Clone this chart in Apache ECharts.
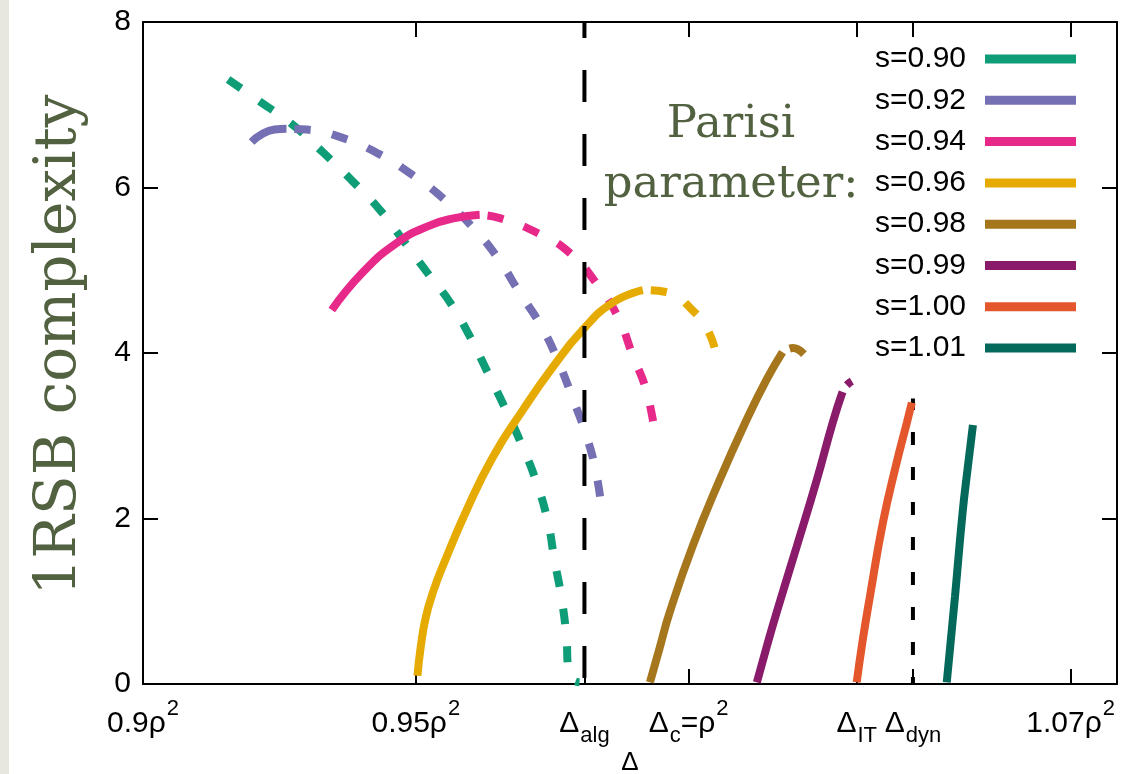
<!DOCTYPE html>
<html>
<head>
<meta charset="utf-8">
<script src="https://cdn.jsdelivr.net/npm/echarts@6/dist/echarts.min.js"></script>
<style>
  html, body { margin: 0; padding: 0; background: #ffffff; }
  #chart { width: 1138px; height: 774px; }
</style>
</head>
<body>
<div id="chart"></div>
<script>
// Parisi parameter of each curve
const sNames = ['s=0.90', 's=0.92', 's=0.94', 's=0.96', 's=0.98', 's=0.99', 's=1.00', 's=1.01'];
const sColors = ['#0f9d77', '#7570b3', '#e7298a', '#e6ab02', '#a6761d', '#8a1a6a', '#e4572d', '#04695b'];

// 1RSB complexity versus Δ (in units of ρ²): stable branch drawn solid, unstable branch dashed
const s090Solid = [];
const s090Dashed = [[0.9144, 7.36], [0.9214, 7.04], [0.9274, 6.76], [0.9329, 6.43], [0.9382, 6.09], [0.9434, 5.73],
  [0.9476, 5.37], [0.9520, 4.98], [0.9566, 4.58], [0.9599, 4.20], [0.9632, 3.76], [0.9663, 3.34], [0.9694, 2.89],
  [0.9721, 2.44], [0.9742, 1.96], [0.9754, 1.50], [0.9767, 1.04], [0.9776, 0.56], [0.9779, 0.20], [0.9786, 0.06], [0.9800, 0.02]];

const s092Solid = [[0.9199, 6.55], [0.9217, 6.64], [0.9241, 6.70], [0.9263, 6.71]];
const s092Dashed = [[0.9263, 6.71], [0.9300, 6.70], [0.9366, 6.60], [0.9434, 6.40], [0.9494, 6.15], [0.9553, 5.85],
  [0.9608, 5.49], [0.9650, 5.15], [0.9690, 4.73], [0.9731, 4.31], [0.9764, 3.85], [0.9787, 3.46], [0.9813, 2.99],
  [0.9831, 2.53], [0.9841, 2.08]];

const s094Solid = [[0.9346, 4.52], [0.9402, 4.97], [0.9465, 5.33], [0.9525, 5.54], [0.9571, 5.63], [0.9617, 5.67]];
const s094Dashed = [[0.9617, 5.67], [0.9654, 5.63], [0.9723, 5.45], [0.9782, 5.21], [0.9831, 4.84], [0.9870, 4.44],
  [0.9897, 3.98], [0.9923, 3.53], [0.9940, 2.95]];

const s096Solid = [[0.9503, 0.10], [0.9509, 0.45], [0.9518, 0.80], [0.9532, 1.12], [0.9551, 1.45], [0.9593, 2.10],
  [0.9641, 2.74], [0.9696, 3.31], [0.9751, 3.83], [0.9806, 4.28], [0.9861, 4.61], [0.9916, 4.76]];
const s096Dashed = [[0.9916, 4.76], [0.9956, 4.74], [1.0011, 4.49], [1.0039, 4.22], [1.0051, 3.95]];

const s098Solid = [[0.9929, 0.02], [0.9947, 0.44], [0.9965, 0.86], [1.0007, 1.66], [1.0057, 2.47], [1.0106, 3.19],
  [1.0143, 3.68], [1.0172, 4.01]];
const s098Dashed = [[1.0172, 4.01], [1.0191, 4.06], [1.0216, 3.95]];

const s099Solid = [[1.0125, 0.02], [1.0143, 0.45], [1.0161, 0.86], [1.0198, 1.66], [1.0235, 2.47], [1.0264, 3.16], [1.0282, 3.53]];
const s099Dashed = [[1.0282, 3.53], [1.0288, 3.60], [1.0299, 3.66]];

const s100Solid = [[1.0308, 0.02], [1.0319, 0.53], [1.0332, 1.05], [1.0356, 1.95], [1.0381, 2.67], [1.0400, 3.16], [1.0409, 3.40]];
const s100Dashed = [];

const s101Solid = [[1.0473, 0.02], [1.0488, 1.05], [1.0502, 2.07], [1.0511, 2.59], [1.0521, 3.13]];
const s101Dashed = [];

const solidBranches = [s090Solid, s092Solid, s094Solid, s096Solid, s098Solid, s099Solid, s100Solid, s101Solid];
const dashedBranches = [s090Dashed, s092Dashed, s094Dashed, s096Dashed, s098Dashed, s099Dashed, s100Dashed, s101Dashed];

// Thresholds on the Δ axis
const deltaAlg = 0.9809;
const deltaC = 1.0;
const deltaIT = 1.0308;
const deltaDyn = 1.0411;
const deltaDynLineTop = 3.45;

// Δ axis ticks; "^" marks a superscript, "_" a subscript
const xTickValues = [0.9, 0.95, deltaAlg, deltaC, deltaIT, deltaDyn, 1.07];
const xTickLabels = ['0.9ρ^2', '0.95ρ^2', 'Δ_alg', 'Δ_c=ρ^2', 'Δ_IT', 'Δ_dyn', '1.07ρ^2'];
const xMin = 0.9, xMax = 1.0785;
const yMin = 0, yMax = 8, yStep = 2;

const xAxisName = 'Δ';
const yAxisName = '1RSB complexity';
const noteText = 'Parisi\nparameter:';

const sansFont = '"Liberation Sans", Arial, Helvetica, sans-serif';
const serifFont = '"DejaVu Serif", serif';
const olive = '#526140';

function toRich(text) {
  let out = '';
  let last = 0;
  text.replace(/([_^])([A-Za-z0-9]+)/g, (m, kind, body, idx) => {
    if (idx > last) out += '{n|' + text.slice(last, idx) + '}';
    out += (kind === '^' ? '{sup|' : '{sub|') + body + '}';
    last = idx + m.length;
    return m;
  });
  if (last < text.length) out += '{n|' + text.slice(last) + '}';
  return out;
}

function tickLabel(value) {
  for (let i = 0; i < xTickValues.length; i++) {
    if (Math.abs(xTickValues[i] - value) < 1e-7) return toRich(xTickLabels[i]);
  }
  return '';
}

const axisLineStyle = { color: '#000', width: 2 };

const series = [];
sNames.forEach((name, i) => {
  if (solidBranches[i].length) {
    series.push({
      name: name, type: 'line', data: solidBranches[i], color: sColors[i],
      symbol: 'none', smooth: 0.5, silent: true, z: 3,
      lineStyle: { width: 8, color: sColors[i], cap: 'butt' }
    });
  }
  if (dashedBranches[i].length) {
    series.push({
      name: name, type: 'line', data: dashedBranches[i], color: sColors[i],
      symbol: 'none', smooth: 0.5, silent: true, z: 3,
      lineStyle: { width: 8, color: sColors[i], type: [16, 22], dashOffset: 30, cap: 'butt' }
    });
  }
});

// Vertical markers at Δ_alg (long dashes) and Δ_dyn (short dashes)
series.push({
  name: 'alg', type: 'line', data: [[deltaAlg, yMin], [deltaAlg, yMax]],
  symbol: 'none', silent: true, z: 4,
  lineStyle: { width: 4, color: '#000', type: [32, 32], dashOffset: 58, cap: 'butt' }
});
series.push({
  name: 'dyn', type: 'line', data: [[deltaDyn, yMin], [deltaDyn, deltaDynLineTop]],
  symbol: 'none', silent: true, z: 2,
  lineStyle: { width: 4, color: '#000', type: [13, 22], dashOffset: 6, cap: 'butt' }
});

const chart = echarts.init(document.getElementById('chart'), null, { renderer: 'canvas' });
chart.setOption({
  animation: false,
  backgroundColor: '#ffffff',
  grid: { left: 143, right: 21, top: 22, bottom: 90, containLabel: false, outerBoundsMode: 'none' },
  xAxis: [{
    type: 'value', min: xMin, max: xMax, position: 'bottom',
    name: xAxisName, nameLocation: 'middle', nameGap: 66, nameMoveOverlap: false,
    nameTextStyle: { fontFamily: sansFont, fontSize: 26, color: '#000' },
    axisLine: { show: true, onZero: false, lineStyle: axisLineStyle },
    axisTick: { show: true, inside: true, length: 15, lineStyle: axisLineStyle, customValues: xTickValues },
    axisLabel: {
      show: true, customValues: xTickValues, margin: 25, formatter: tickLabel,
      rich: {
        n: { fontFamily: sansFont, fontSize: 30, color: '#000', lineHeight: 30, padding: [14, 0, 14, 0] },
        sup: { fontFamily: sansFont, fontSize: 22, color: '#000', lineHeight: 22, padding: [3, 0, 33, 1] },
        sub: { fontFamily: sansFont, fontSize: 22, color: '#000', lineHeight: 22, padding: [30, 0, 6, 1] }
      }
    },
    splitLine: { show: false }
  }, {
    type: 'value', min: xMin, max: xMax, position: 'top',
    axisLine: { show: true, onZero: false, lineStyle: axisLineStyle },
    axisTick: { show: true, inside: true, length: 15, lineStyle: axisLineStyle, customValues: xTickValues },
    axisLabel: { show: false },
    splitLine: { show: false }
  }],
  yAxis: [{
    type: 'value', min: yMin, max: yMax, interval: yStep, position: 'left',
    axisLine: { show: true, onZero: false, lineStyle: axisLineStyle },
    axisTick: { show: true, inside: true, length: 15, lineStyle: axisLineStyle },
    axisLabel: { show: true, margin: 12, fontFamily: sansFont, fontSize: 30, color: '#000' },
    splitLine: { show: false }
  }, {
    type: 'value', min: yMin, max: yMax, interval: yStep, position: 'right',
    axisLine: { show: true, onZero: false, lineStyle: axisLineStyle },
    axisTick: { show: true, inside: true, length: 15, lineStyle: axisLineStyle },
    axisLabel: { show: false },
    splitLine: { show: false }
  }],
  legend: {
    data: sNames.map(n => ({ name: n, icon: 'rect' })),
    orient: 'vertical', align: 'right', right: 57, top: 39,
    itemWidth: 91, itemHeight: 9, itemGap: 11.3,
    selectedMode: false,
    textStyle: { fontFamily: sansFont, fontSize: 30, color: '#000', lineHeight: 30, padding: [0, 14, 0, 0] }
  },
  graphic: [
    { type: 'rect', left: 0, top: 0, z: -10, shape: { width: 9, height: 774 }, style: { fill: '#e7e6df' } },
    {
      type: 'text', x: 731, y: 95, z: 10,
      style: { text: noteText, fontFamily: serifFont, fontSize: 45, lineHeight: 60, fill: olive,
               textAlign: 'center', textVerticalAlign: 'top' }
    },
    {
      type: 'text', x: 60, y: 345, rotation: Math.PI / 2, z: 10,
      style: { text: yAxisName, fontFamily: serifFont, fontSize: 58, fill: olive,
               textAlign: 'center', textVerticalAlign: 'middle' }
    }
  ],
  series: series
});
</script>
</body>
</html>
